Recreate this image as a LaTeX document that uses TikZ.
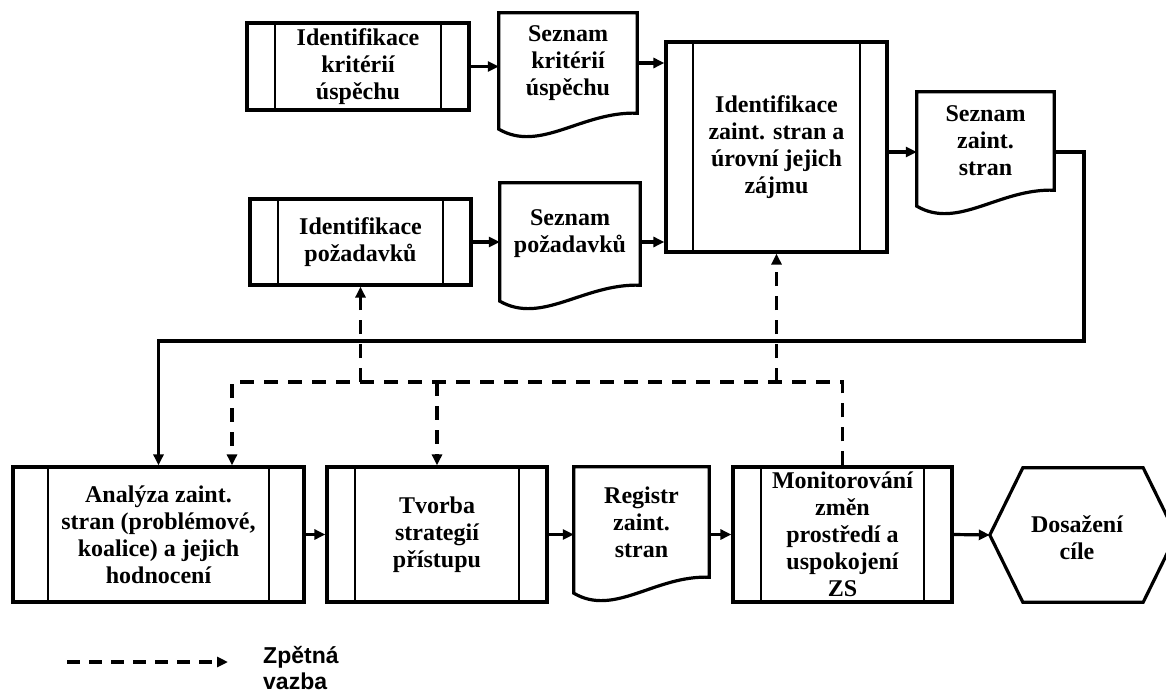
\documentclass[tikz,border=0pt]{standalone}
\usepackage{fontspec}
\setmainfont{Liberation Serif}
\newfontfamily\legendfont{Liberation Sans}
\usetikzlibrary{arrows.meta,calc}

\tikzset{
  boxline/.style={line width=3.2pt, line join=miter},
  label text/.style={font=\fontsize{24}{27}\selectfont\bfseries, align=center},
  procbox/.style={draw, boxline, label text, inner sep=0pt,
    path picture={\draw[line width=2.4pt]
      ([xshift=#1]path picture bounding box.north west) -- ([xshift=#1]path picture bounding box.south west)
      ([xshift=-#1]path picture bounding box.north east) -- ([xshift=-#1]path picture bounding box.south east);}},
  docbox/.style={label text, inner sep=0pt},
  tip/.style={-{Triangle[length=11pt,width=10pt]}},
  flow/.style={line width=3.2pt, tip},
  fbline/.style={line width=3.2pt, dash pattern=on 14pt off 10pt},
  fbarrow/.style={fbline, tip},
}

% document symbol: straight top and sides, wavy bottom edge
\newcommand\docoutline[1]{%
  \draw[boxline] (#1.south east) -- (#1.north east) -- (#1.north west) -- ([yshift=-16pt]#1.south west)
    .. controls ($(#1.south west)!0.3!(#1.south east)+(0,-40pt)$) and ($(#1.south west)!0.6!(#1.south east)+(0,2pt)$) .. (#1.south east) -- cycle;}

\begin{document}
\begin{tikzpicture}[x=1pt,y=-1pt]
\useasboundingbox (0,0) rectangle (1166,695);

% upper part
\node[procbox=28pt, minimum width=222pt, minimum height=87pt] (A) at (358,66.5) {Identifikace\\kritérií\\úspěchu};
\node[docbox, minimum width=138pt, minimum height=100pt] (B) at (568,63) {Seznam\\kritérií\\úspěchu};
\docoutline{B}
\node[procbox=27pt, minimum width=221pt, minimum height=210pt] (C) at (776.5,147) {Identifikace\\zaint. stran a\\úrovní jejich\\zájmu};
\node[docbox, minimum width=137pt, minimum height=98pt] (D) at (985.5,141) {Seznam\\zaint.\\stran};
\docoutline{D}
\node[procbox=28pt, minimum width=221pt, minimum height=86pt] (E) at (360.5,242) {Identifikace\\požadavků};
\node[docbox, minimum width=140pt, minimum height=102pt] (F) at (570,234) {Seznam\\požadavků};
\docoutline{F}

% lower part
\node[procbox=35pt, minimum width=291pt, minimum height=135pt] (G) at (158.5,534.5) {Analýza zaint.\\stran (problémové,\\koalice) a jejich\\hodnocení};
\node[procbox=28pt, minimum width=220pt, minimum height=135pt] (H) at (437,534.5) {Tvorba\\strategií\\přístupu};
\node[docbox, minimum width=135pt, minimum height=110pt] (I) at (641.5,522) {Registr\\zaint.\\stran};
\docoutline{I}
\node[procbox=28pt, minimum width=219pt, minimum height=135pt] (J) at (842.5,534.5) {Monitorování\\změn\\prostředí a\\uspokojení\\ZS};
\node[minimum width=186pt, minimum height=134pt, inner sep=0pt] (K) at (1083,535) {};
\draw[boxline] (K.west) -- ([xshift=33pt]K.north west) -- ([xshift=-33pt]K.north east) -- (K.east)
  -- ([xshift=-33pt]K.south east) -- ([xshift=33pt]K.south west) -- cycle;
\node[label text] (Kt) at (1077,538) {Dosažení\\cíle};

% main flow
\draw[flow] (A.east) -- (A.east -| B.west);
\draw[flow] (B.east) -- (B.east -| C.west);
\draw[flow] (E.east) -- (E.east -| F.west);
\draw[flow] (F.east |- E.east) -- (E.east -| C.west);
\draw[flow] ([yshift=-5pt]C.east) -- ([yshift=-5pt]C.east -| D.west);
\coordinate (rail) at (1084,341);
\draw[flow, line join=miter] ([yshift=-11pt]D.east) -| (rail) -| (G.north);
\draw[flow] (G.east) -- (G.east -| H.west);
\draw[flow] (H.east) -- (H.east -| I.west);
\draw[flow] (I.east |- H.east) -- (H.east -| J.west);
\draw[flow] (J.east) -- (K.west);

% feedback
\coordinate (fbL) at (232,382);
\draw[fbarrow] (J.north) -- (J.north |- fbL) -- (fbL) -- (fbL |- G.north);
\draw[fbarrow] (H.north |- fbL) -- (H.north);
\draw[fbarrow] (E.south |- fbL) -- (E.south);
\draw[fbarrow] (C.south |- fbL) -- (C.south);

% legend
\coordinate (lgA) at (67,662);
\coordinate (lgB) at (228,662);
\draw[line width=3.2pt, dash pattern=on 13pt off 9pt, tip] (lgA) -- (lgB);
\node[anchor=west, align=left, inner sep=0pt, font=\legendfont\bfseries\fontsize{23}{26}\selectfont] (lgT) at (263,668) {Zpětná\\vazba};
\end{tikzpicture}
\end{document}
